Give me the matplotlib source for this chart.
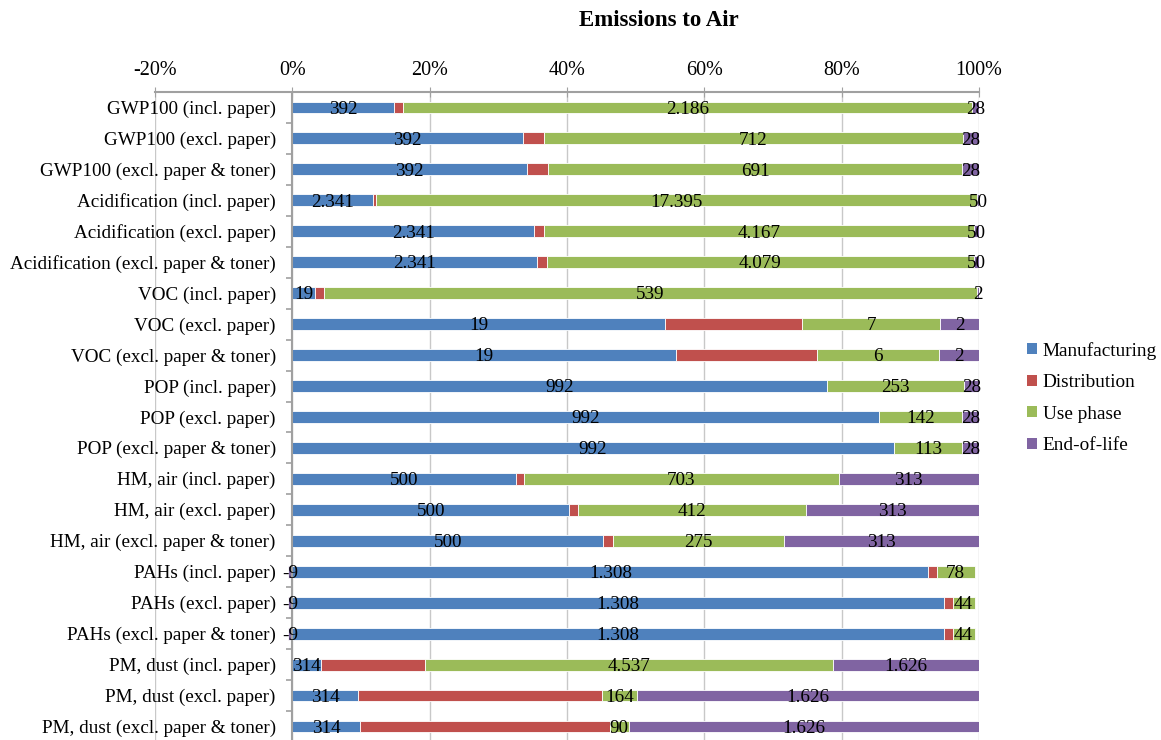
import numpy as np
import matplotlib
matplotlib.use("Agg")
import matplotlib.pyplot as plt
from matplotlib.patches import Patch
from matplotlib.ticker import FuncFormatter

plt.rcParams['font.family'] = ['Liberation Serif', 'DejaVu Serif']

categories = [
	"GWP100 (incl. paper)",
	"GWP100 (excl. paper)",
	"GWP100 (excl. paper & toner)",
	"Acidification (incl. paper)",
	"Acidification (excl. paper)",
	"Acidification (excl. paper & toner)",
	"VOC (incl. paper)",
	"VOC (excl. paper)",
	"VOC (excl. paper & toner)",
	"POP (incl. paper)",
	"POP (excl. paper)",
	"POP (excl. paper & toner)",
	"HM, air (incl. paper)",
	"HM, air (excl. paper)",
	"HM, air (excl. paper & toner)",
	"PAHs (incl. paper)",
	"PAHs (excl. paper)",
	"PAHs (excl. paper & toner)",
	"PM, dust (incl. paper)",
	"PM, dust (excl. paper)",
	"PM, dust (excl. paper & toner)",
]

manufacturing = [392, 392, 392, 2341, 2341, 2341, 19, 19, 19, 992, 992, 992,
                 500, 500, 500, 1308, 1308, 1308, 314, 314, 314]
# distribution has no labels in the source
distribution = [35, 35, 35, 95, 95, 95, 7, 7, 7, 0, 0, 0,
                16, 16, 16, 17, 18, 18, 1160, 1160, 1160]
use_phase = [2186, 712, 691, 17395, 4167, 4079, 539, 7, 6, 253, 142, 113,
             703, 412, 275, 78, 44, 44, 4537, 164, 90]
end_of_life = [28, 28, 28, 50, 50, 50, 2, 2, 2, 28, 28, 28,
               313, 313, 313, -9, -9, -9, 1626, 1626, 1626]

series = [
	("Manufacturing", manufacturing, "#4F81BD", True),
	("Distribution", distribution, "#C0504D", False),
	("Use phase", use_phase, "#9BBB59", True),
	("End-of-life", end_of_life, "#8064A2", True),
]

def fmt_num(v) :
	return f"{v:,}".replace(",", ".")

W, H = 1161, 740
fig = plt.figure(figsize=(W / 100, H / 100), dpi=100)
ax = fig.add_axes([155 / W, -0.003, (979 - 155) / W, 0.879])

vals = np.array([s[1] for s in series], dtype=float)
totals = np.abs(vals).sum(axis=0)
y = np.arange(len(categories))
bar_h = 0.37

left_pos = np.zeros(len(categories))
left_neg = np.zeros(len(categories))
for name, v, color, labelled in series :
	pct = np.array(v, dtype=float) / totals
	start = np.where(pct >= 0, left_pos, left_neg + pct)
	ax.barh(y, pct, height=bar_h, left=np.where(pct >= 0, left_pos, left_neg),
		color=color, edgecolor='white', linewidth=0.6, zorder=3)
	if labelled :
		for i in range(len(categories)) :
			if v[i] == 0 :
				continue
			cx = start[i] + abs(pct[i]) / 2
			ax.text(cx, y[i] + 0.06, fmt_num(v[i]), ha='center', va='center',
				fontsize=13.8, color='black', zorder=5)
	left_pos = left_pos + np.where(pct >= 0, pct, 0)
	left_neg = left_neg + np.where(pct < 0, pct, 0)

ax.set_xlim(-0.2, 1.0)
ax.set_ylim(len(categories) - 0.5, -0.5)

ax.xaxis.tick_top()
ax.set_xticks(np.arange(-0.2, 1.01, 0.2))
ax.xaxis.set_major_formatter(FuncFormatter(lambda x, p : f"{round(x * 100):d}%"))
ax.tick_params(axis='x', direction='inout', length=7, color='#a0a0a0',
	labelsize=14.5, pad=5)
ax.set_yticks([])
ax.grid(axis='x', color='#c8c8c8', linewidth=1.0, zorder=0)

for side in ['left', 'right', 'bottom'] :
	ax.spines[side].set_visible(False)
ax.spines['top'].set_color('#a0a0a0')
ax.spines['top'].set_linewidth(1.5)

# category axis sits at 0 %
ax.axvline(0, color='#a0a0a0', linewidth=1.5, zorder=4)
ax.hlines(np.arange(-0.5, len(categories)), -0.009, 0, color='#a0a0a0',
	linewidth=1.2, zorder=4)
for i, c in enumerate(categories) :
	ax.text(-0.024, y[i] + 0.06, c, ha='right', va='center', fontsize=13.8,
		zorder=6)

fig.text(659 / W, 1 - 21 / H, "Emissions to Air", ha='center', va='center',
	fontsize=16.5, fontweight='bold')

handles = [Patch(facecolor=s[2], edgecolor='none') for s in series]
fig.legend(handles, [s[0] for s in series], loc='center left',
	bbox_to_anchor=(1010 / W, 1 - 398 / H), frameon=False, fontsize=13.9,
	handlelength=0.5, handleheight=0.5, handletextpad=0.3, labelspacing=0.75)

fig.savefig("out.png", dpi=100)
